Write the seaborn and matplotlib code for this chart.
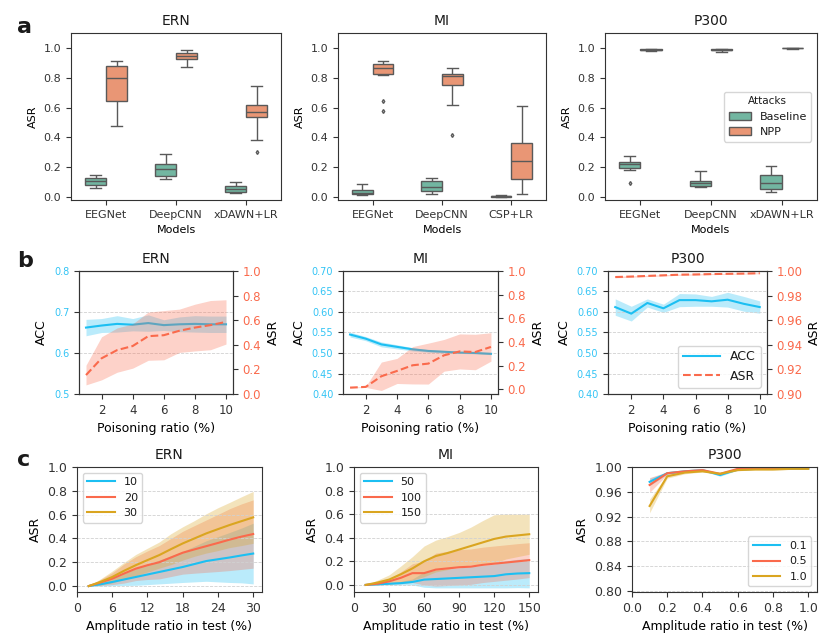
import numpy as np
import pandas as pd
import matplotlib
matplotlib.use("Agg")
import matplotlib.pyplot as plt
import seaborn as sns

# ---- panel a: ASR per model (samples per box) ----
ern_models = ["EEGNet", "DeepCNN", "xDAWN+LR"]
mi_models = ["EEGNet", "DeepCNN", "CSP+LR"]
p300_models = ["EEGNet", "DeepCNN", "xDAWN+LR"]

ern_baseline = [[0.063, 0.075, 0.083, 0.095, 0.105, 0.118, 0.13, 0.14, 0.15],
                [0.119, 0.13, 0.141, 0.17, 0.19, 0.205, 0.219, 0.25, 0.286],
                [0.03, 0.033, 0.036, 0.045, 0.054, 0.062, 0.072, 0.085, 0.098]]
ern_npp = [[0.479, 0.58, 0.644, 0.72, 0.796, 0.84, 0.877, 0.895, 0.91],
           [0.873, 0.91, 0.928, 0.94, 0.946, 0.955, 0.966, 0.975, 0.984],
           [0.30, 0.38, 0.537, 0.555, 0.57, 0.59, 0.62, 0.68, 0.747]]
mi_baseline = [[0.013, 0.015, 0.018, 0.024, 0.03, 0.038, 0.045, 0.065, 0.087],
               [0.022, 0.03, 0.038, 0.052, 0.067, 0.085, 0.105, 0.118, 0.128],
               [0.0, 0.001, 0.002, 0.004, 0.005, 0.007, 0.009, 0.011, 0.012]]
mi_npp = [[0.575, 0.647, 0.817, 0.828, 0.84, 0.852, 0.864, 0.872, 0.882, 0.89, 0.9, 0.905, 0.91],
          [0.418, 0.615, 0.754, 0.785, 0.81, 0.82, 0.828, 0.85, 0.866],
          [0.018, 0.07, 0.123, 0.18, 0.244, 0.3, 0.365, 0.48, 0.611]]
p300_baseline = [[0.094, 0.183, 0.197, 0.21, 0.224, 0.23, 0.237, 0.255, 0.275],
                 [0.065, 0.068, 0.072, 0.082, 0.092, 0.1, 0.11, 0.14, 0.177],
                 [0.036, 0.045, 0.051, 0.075, 0.096, 0.12, 0.15, 0.18, 0.208]]
p300_npp = [[0.978, 0.983, 0.985, 0.987, 0.988, 0.989, 0.99, 0.99, 0.991],
            [0.975, 0.982, 0.985, 0.987, 0.988, 0.989, 0.99, 0.99, 0.991],
            [0.996, 0.997, 0.997, 0.998, 0.998, 0.998, 0.999, 0.999, 0.999]]

# ---- panel b: ACC / ASR vs poisoning ratio ----
ratios = [1, 2, 3, 4, 5, 6, 7, 8, 9, 10]
ern_acc = [0.662, 0.667, 0.671, 0.669, 0.673, 0.668, 0.670, 0.671, 0.670, 0.670]
ern_acc_sd = [0.02, 0.017, 0.02, 0.015, 0.02, 0.013, 0.018, 0.02, 0.02, 0.02]
ern_asr = [0.154, 0.29, 0.357, 0.39, 0.47, 0.478, 0.514, 0.54, 0.56, 0.586]
ern_asr_sd = [0.08, 0.175, 0.18, 0.18, 0.196, 0.2, 0.176, 0.19, 0.2, 0.18]
mi_acc = [0.545, 0.535, 0.521, 0.515, 0.509, 0.505, 0.503, 0.501, 0.500, 0.498]
mi_acc_sd = [0.006, 0.005, 0.006, 0.005, 0.004, 0.003, 0.003, 0.002, 0.002, 0.002]
mi_asr = [0.014, 0.02, 0.11, 0.155, 0.203, 0.217, 0.287, 0.32, 0.315, 0.358]
mi_asr_sd = [0.003, 0.004, 0.12, 0.106, 0.158, 0.173, 0.134, 0.148, 0.15, 0.12]
p300_acc = [0.612, 0.596, 0.622, 0.609, 0.629, 0.629, 0.626, 0.630, 0.620, 0.612]
p300_acc_sd = [0.02, 0.018, 0.01, 0.01, 0.016, 0.015, 0.012, 0.018, 0.018, 0.015]
p300_asr = [0.9951, 0.9955, 0.9960, 0.9965, 0.9970, 0.9972, 0.9975, 0.9977, 0.9979, 0.9982]
p300_asr_sd = [0.0006, 0.0006, 0.0005, 0.0005, 0.0005, 0.0005, 0.0004, 0.0004, 0.0004, 0.0004]

# ---- panel c: ASR vs amplitude ratio in test ----
ern_amp = [2, 4, 6, 8, 10, 12, 14, 16, 18, 20, 22, 24, 26, 28, 30]
ern_labels = ["10", "20", "30"]
ern_c_mean = [[0.0, 0.015, 0.034, 0.055, 0.076, 0.097, 0.118, 0.139, 0.16, 0.185, 0.21, 0.225, 0.24, 0.257, 0.273],
              [0.0, 0.03, 0.062, 0.105, 0.146, 0.175, 0.2, 0.24, 0.28, 0.308, 0.335, 0.362, 0.39, 0.415, 0.437],
              [0.0, 0.035, 0.076, 0.128, 0.175, 0.218, 0.26, 0.31, 0.358, 0.4, 0.442, 0.478, 0.513, 0.545, 0.577]]
ern_c_sd = [[0.0, 0.015, 0.03, 0.05, 0.07, 0.085, 0.1, 0.115, 0.13, 0.15, 0.17, 0.19, 0.21, 0.23, 0.255],
            [0.0, 0.025, 0.05, 0.08, 0.1, 0.12, 0.14, 0.16, 0.18, 0.2, 0.22, 0.24, 0.26, 0.275, 0.287],
            [0.0, 0.025, 0.05, 0.07, 0.09, 0.1, 0.11, 0.13, 0.14, 0.15, 0.165, 0.18, 0.19, 0.205, 0.218]]
mi_amp = [10, 20, 30, 40, 50, 60, 70, 80, 90, 100, 110, 120, 130, 140, 150]
mi_labels = ["50", "100", "150"]
mi_c_mean = [[0.0, 0.005, 0.01, 0.015, 0.025, 0.045, 0.05, 0.055, 0.06, 0.065, 0.07, 0.075, 0.09, 0.097, 0.1],
             [0.0, 0.01, 0.03, 0.06, 0.1, 0.1, 0.13, 0.14, 0.15, 0.155, 0.17, 0.18, 0.19, 0.2, 0.21],
             [0.0, 0.02, 0.045, 0.09, 0.14, 0.2, 0.245, 0.27, 0.3, 0.33, 0.36, 0.39, 0.41, 0.42, 0.43]]
mi_c_sd = [[0.0, 0.005, 0.01, 0.015, 0.025, 0.065, 0.075, 0.08, 0.085, 0.09, 0.095, 0.1, 0.115, 0.12, 0.125],
           [0.0, 0.01, 0.02, 0.05, 0.08, 0.1, 0.14, 0.145, 0.15, 0.15, 0.15, 0.15, 0.15, 0.15, 0.148],
           [0.0, 0.02, 0.04, 0.07, 0.1, 0.13, 0.135, 0.14, 0.145, 0.16, 0.185, 0.205, 0.19, 0.18, 0.17]]
p300_amp = [0.1, 0.2, 0.3, 0.4, 0.5, 0.6, 0.7, 0.8, 0.9, 1.0]
p300_labels = ["0.1", "0.5", "1.0"]
p300_c_mean = [[0.976, 0.990, 0.993, 0.995, 0.987, 0.996, 0.997, 0.997, 0.997, 0.997],
               [0.971, 0.990, 0.993, 0.995, 0.989, 0.997, 0.997, 0.997, 0.998, 0.998],
               [0.937, 0.985, 0.991, 0.993, 0.989, 0.995, 0.996, 0.996, 0.997, 0.997]]
p300_c_sd = [[0.006, 0.002, 0.001, 0.001, 0.002, 0.001, 0.001, 0.001, 0.001, 0.001],
             [0.012, 0.002, 0.001, 0.001, 0.001, 0.001, 0.001, 0.001, 0.001, 0.001],
             [0.011, 0.003, 0.002, 0.001, 0.001, 0.001, 0.001, 0.001, 0.001, 0.001]]

BLUE = "#1cbff2"
RED = "#fa6a4c"
GOLD = "#daa520"
line_colors = [BLUE, RED, GOLD]

plt.rcParams["axes.edgecolor"] = "0.2"
plt.rcParams["xtick.color"] = "0.2"
plt.rcParams["ytick.color"] = "0.2"
plt.rcParams["text.color"] = "0.1"

fig = plt.figure(figsize=(8.3, 6.44), dpi=100)


def px(left, top, right, bottom):
    return [left / 830, (644 - bottom) / 644, (right - left) / 830, (bottom - top) / 644]


# ---------- row a ----------
row_a = [("ERN", ern_models, ern_baseline, ern_npp, px(71, 33, 281, 200)),
         ("MI", mi_models, mi_baseline, mi_npp, px(338, 33, 546, 200)),
         ("P300", p300_models, p300_baseline, p300_npp, px(605, 33, 817, 200))]

for i, (name, models, base, npp, pos) in enumerate(row_a):
    rows = []
    for m, b_vals, n_vals in zip(models, base, npp):
        rows += [(m, "Baseline", v) for v in b_vals]
        rows += [(m, "NPP", v) for v in n_vals]
    df = pd.DataFrame(rows, columns=["Models", "Attacks", "ASR"])
    ax = fig.add_axes(pos)
    sns.boxplot(data=df, x="Models", y="ASR", hue="Attacks", palette="Set2",
                width=0.6, whis=2.0, linewidth=1, fliersize=2,
                flierprops={"marker": "d"}, ax=ax, legend=(i == 2))
    ax.set_ylim(-0.02, 1.1)
    ax.set_yticks([0, 0.2, 0.4, 0.6, 0.8, 1.0])
    ax.tick_params(labelsize=8)
    ax.set_xlabel("Models", fontsize=8)
    ax.set_ylabel("ASR", fontsize=8)
    ax.set_title(name, fontsize=10)
    if i == 2:
        ax.legend(title="Attacks", loc="center right", fontsize=8, title_fontsize=7.5)

# ---------- row b ----------
row_b = [("ERN", ern_acc, ern_acc_sd, ern_asr, ern_asr_sd, (0.5, 0.8), [0.5, 0.6, 0.7, 0.8],
          (0.0, 1.0), [0, 0.2, 0.4, 0.6, 0.8, 1.0], "%.1f", px(79, 271, 233, 394)),
         ("MI", mi_acc, mi_acc_sd, mi_asr, mi_asr_sd, (0.4, 0.7), np.arange(0.4, 0.701, 0.05),
          (-0.04, 1.0), [0, 0.2, 0.4, 0.6, 0.8, 1.0], "%.1f", px(343, 271, 498, 394)),
         ("P300", p300_acc, p300_acc_sd, p300_asr, p300_asr_sd, (0.4, 0.7), np.arange(0.4, 0.701, 0.05),
          (0.9, 1.0), np.arange(0.9, 1.001, 0.02), "%.2f", px(608, 271, 767, 394))]

for i, (name, acc, acc_sd, asr, asr_sd, ylim1, yt1, ylim2, yt2, fmt2, pos) in enumerate(row_b):
    ax = fig.add_axes(pos)
    acc = np.array(acc); acc_sd = np.array(acc_sd)
    asr = np.array(asr); asr_sd = np.array(asr_sd)
    sns.lineplot(x=ratios, y=acc, color=BLUE, lw=1.5, ax=ax, label="ACC", legend=False)
    ax.fill_between(ratios, acc - acc_sd, acc + acc_sd, color=BLUE, alpha=0.3, lw=0)
    ax.set_ylim(*ylim1)
    ax.set_yticks(yt1)
    ax.set_yticklabels([("%.2f" if name != "ERN" else "%.1f") % v for v in yt1])
    ax.set_xticks([2, 4, 6, 8, 10])
    ax.tick_params(axis="y", labelsize=7, labelcolor="#33c4f5")
    ax.tick_params(axis="x", labelsize=8.5)
    ax.grid(axis="y", ls="--", lw=0.6, color="0.82")
    ax.set_xlabel("Poisoning ratio (%)", fontsize=9)
    ax.set_ylabel("ACC", fontsize=9)
    ax.set_title(name, fontsize=10)
    ax2 = ax.twinx()
    sns.lineplot(x=ratios, y=asr, color=RED, lw=1.5, ls="--", ax=ax2, label="ASR", legend=False)
    ax2.fill_between(ratios, asr - asr_sd, asr + asr_sd, color=RED, alpha=0.3, lw=0)
    ax2.set_ylim(*ylim2)
    ax2.set_yticks(yt2)
    ax2.set_yticklabels([fmt2 % v for v in yt2])
    ax2.tick_params(axis="y", labelsize=8.5, labelcolor=RED)
    ax2.set_ylabel("ASR", fontsize=9)
    if i == 2:
        h1, l1 = ax.get_legend_handles_labels()
        h2, l2 = ax2.get_legend_handles_labels()
        ax2.legend(h1 + h2, l1 + l2, loc="lower right", fontsize=9, handlelength=3)

# ---------- row c ----------
row_c = [("ERN", ern_amp, ern_labels, ern_c_mean, ern_c_sd, (0, 31.5), [0, 6, 12, 18, 24, 30],
          (-0.05, 1.0), [0, 0.2, 0.4, 0.6, 0.8, 1.0], "%.1f", "upper left", px(77, 467, 262, 592)),
         ("MI", mi_amp, mi_labels, mi_c_mean, mi_c_sd, (0, 157.5), [0, 30, 60, 90, 120, 150],
          (-0.06, 1.0), [0, 0.2, 0.4, 0.6, 0.8, 1.0], "%.1f", "upper left", px(354, 467, 538, 592)),
         ("P300", p300_amp, p300_labels, p300_c_mean, p300_c_sd, (0, 1.05), [0, 0.2, 0.4, 0.6, 0.8, 1.0],
          (0.798, 1.0), [0.8, 0.84, 0.88, 0.92, 0.96, 1.0], "%.2f", "lower right", px(632, 467, 817, 592))]

for name, amp, labels, means, sds, xlim, xt, ylim, yt, fmt, loc, pos in row_c:
    ax = fig.add_axes(pos)
    for lab, m, s, c in zip(labels, means, sds, line_colors):
        m = np.array(m); s = np.array(s)
        sns.lineplot(x=amp, y=m, color=c, lw=1.5, ax=ax, label=lab)
        ax.fill_between(amp, m - s, m + s, color=c, alpha=0.3, lw=0)
    ax.set_xlim(*xlim)
    ax.set_xticks(xt)
    ax.set_ylim(*ylim)
    ax.set_yticks(yt)
    ax.set_yticklabels([fmt % v for v in yt])
    ax.tick_params(labelsize=9)
    ax.grid(axis="y", ls="--", lw=0.6, color="0.82")
    ax.set_xlabel("Amplitude ratio in test (%)", fontsize=9)
    ax.set_ylabel("ASR", fontsize=9)
    ax.set_title(name, fontsize=10)
    ax.legend(loc=loc, fontsize=8, handlelength=2.5)

# panel letters
for letter, y in [("a", 33), ("b", 267), ("c", 466)]:
    fig.text(17 / 830, 1 - y / 644, letter, fontsize=16, fontweight="bold", va="baseline")

fig.savefig("out.png", dpi=100)
